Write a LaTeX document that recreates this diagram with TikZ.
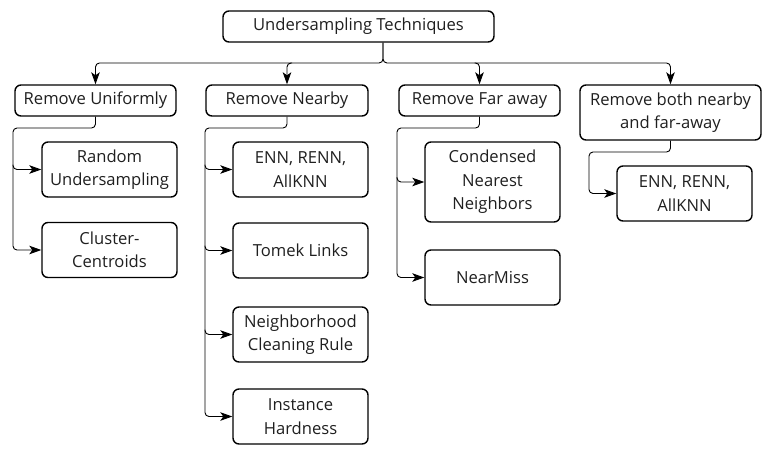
\documentclass[tikz,border=0pt]{standalone}
\usepackage{fontspec}
\setmainfont{Open Sans}
\usetikzlibrary{arrows.meta}
\begin{document}
\begin{tikzpicture}[x=1pt,y=-1pt,
  box/.style={draw, line width=1.4pt, rounded corners=6pt, align=center, inner sep=0pt, font=\fontsize{16.6}{23.5}\selectfont, text=black!88},
  arr/.style={draw, line width=0.9pt, rounded corners=4pt, -{Stealth[length=12pt,width=8.5pt,inset=3pt]}},
  ln/.style={draw, line width=0.9pt, rounded corners=4pt}]
\useasboundingbox (0,0) rectangle (767,456);
% root
\node[box, minimum width=271pt, minimum height=31pt] (root) at (358.5,26.5) {Undersampling Techniques};
% level 1
\node[box, minimum width=161pt, minimum height=31pt] (u) at (95.5,100.5) {Remove Uniformly};
\node[box, minimum width=162pt, minimum height=31pt] (n) at (287,100.5) {Remove Nearby};
\node[box, minimum width=161pt, minimum height=31pt] (f) at (479.5,100.5) {Remove Far away};
\node[box, minimum width=181pt, minimum height=55pt] (b) at (670.5,112.5) {Remove both nearby\\and far-away};
% level 2
\node[box, minimum width=135pt, minimum height=55pt] (ra) at (109.5,169.5) {Random\\Undersampling};
\node[box, minimum width=135pt, minimum height=55pt] (cc) at (109.5,250) {Cluster-\\Centroids};
\node[box, minimum width=135pt, minimum height=55pt] (en) at (300.5,169.5) {ENN, RENN,\\AllKNN};
\node[box, minimum width=135pt, minimum height=55pt] (tl) at (300.5,250.5) {Tomek Links};
\node[box, minimum width=135pt, minimum height=55pt] (nc) at (300.5,334.5) {Neighborhood\\Cleaning Rule};
\node[box, minimum width=135pt, minimum height=55pt] (ih) at (300.5,416.5) {Instance\\Hardness};
\node[box, minimum width=135pt, minimum height=80pt] (cn) at (492.5,182) {Condensed\\Nearest\\Neighbors};
\node[box, minimum width=135pt, minimum height=55pt] (nm) at (492.5,277.5) {NearMiss};
\node[box, minimum width=135pt, minimum height=55pt] (e2) at (684.5,193.5) {ENN, RENN,\\AllKNN};
% root connectors
\coordinate (j) at (383,63);
\draw[arr] (root.south -| j) -- (j) -| (u.north);
\draw[arr] (root.south -| j) -- (j) -| (b.north);
\draw[arr] ([xshift=5pt]n.north |- j) -| (n.north);
\draw[arr] ([xshift=-5pt]f.north |- j) -| (f.north);
% uniform
\coordinate (ul) at (13,128);
\draw[arr] (u.south) |- (ul) |- (cc.west);
\draw[arr] ([yshift=5pt]ul |- ra.west) |- (ra.west);
% nearby
\coordinate (nl) at (205,128);
\draw[arr] (n.south) |- (nl) |- (ih.west);
\draw[arr] ([yshift=5pt]nl |- en.west) |- (en.west);
\draw[arr] ([yshift=5pt]nl |- tl.west) |- (tl.west);
\draw[arr] ([yshift=5pt]nl |- nc.west) |- (nc.west);
% far away
\coordinate (fl) at (397,128);
\draw[arr] (f.south) |- (fl) |- (nm.west);
\draw[arr] ([yshift=5pt]fl |- cn.west) |- (cn.west);
% both
\coordinate (bl) at (589,152);
\draw[arr] (b.south) |- (bl) |- (e2.west);
\end{tikzpicture}
\end{document}
